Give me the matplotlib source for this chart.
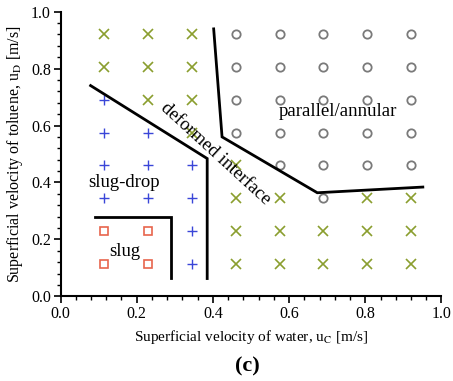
import matplotlib
matplotlib.use("Agg")
import matplotlib.pyplot as plt
from matplotlib.ticker import MultipleLocator, FormatStrFormatter

plt.rcParams['font.family'] = ['Liberation Serif', 'DejaVu Serif']
plt.rcParams['mathtext.fontset'] = 'stix'

# Flow-regime observations (water velocity u_C, toluene velocity u_D)
slug_x = [0.115, 0.115, 0.23, 0.23]
slug_y = [0.23, 0.115, 0.23, 0.115]

slugdrop_x = [0.115, 0.115, 0.115, 0.115, 0.23, 0.23, 0.23,
              0.345, 0.345, 0.345, 0.345]
slugdrop_y = [0.69, 0.575, 0.46, 0.345, 0.575, 0.46, 0.345,
              0.46, 0.345, 0.23, 0.115]

deformed_x = [0.115, 0.115, 0.23, 0.23, 0.23,
              0.345, 0.345, 0.345, 0.345,
              0.46, 0.46, 0.46, 0.46,
              0.575, 0.575, 0.575,
              0.69, 0.69,
              0.805, 0.805, 0.805,
              0.92, 0.92, 0.92]
deformed_y = [0.92, 0.805, 0.92, 0.805, 0.69,
              0.92, 0.805, 0.69, 0.575,
              0.46, 0.345, 0.23, 0.115,
              0.345, 0.23, 0.115,
              0.23, 0.115,
              0.345, 0.23, 0.115,
              0.345, 0.23, 0.115]

parallel_x = ([0.46] * 4 + [0.575] * 5 + [0.69] * 6 + [0.805] * 5 + [0.92] * 5)
parallel_y = ([0.92, 0.805, 0.69, 0.575] +
              [0.92, 0.805, 0.69, 0.575, 0.46] +
              [0.92, 0.805, 0.69, 0.575, 0.46, 0.345] +
              [0.92, 0.805, 0.69, 0.575, 0.46] +
              [0.92, 0.805, 0.69, 0.575, 0.46])

# Regime boundaries
b1_x = [0.079, 0.385, 0.385]
b1_y = [0.740, 0.484, 0.063]
b2_x = [0.402, 0.424, 0.674, 0.951]
b2_y = [0.939, 0.560, 0.364, 0.384]
b3_x = [0.090, 0.289, 0.289]
b3_y = [0.278, 0.278, 0.066]

fig = plt.figure(figsize=(4.53, 3.81), dpi=100)
ax = fig.add_axes([0.1336, 0.2218, 0.841, 0.748])

ax.plot(deformed_x, deformed_y, linestyle='none', marker='x', ms=6.5, mew=1.2,
        color='#8a9e2e')
ax.plot(slugdrop_x, slugdrop_y, linestyle='none', marker='+', ms=7, mew=1.0,
        color='#3a46d8')
ax.plot(slug_x, slug_y, linestyle='none', marker='s', ms=6, mew=1.2,
        mfc='none', mec='#e8654d')
ax.plot(parallel_x, parallel_y, linestyle='none', marker='o', ms=6, mew=1.3,
        mfc='none', mec='#7a7a7a')

for bx, by in [(b1_x, b1_y), (b2_x, b2_y), (b3_x, b3_y)]:
    ax.plot(bx, by, color='black', lw=2.0, solid_joinstyle='miter')

ax.text(0.168, 0.40, 'slug-drop', fontsize=13.5, ha='center', va='center')
ax.text(0.168, 0.158, 'slug', fontsize=13.5, ha='center', va='center')
ax.text(0.729, 0.650, 'parallel/annular', fontsize=13.5, ha='center', va='center')
ax.text(0.407, 0.502, 'deformed interface', fontsize=13.5, ha='center',
        va='center', rotation=-42.5, rotation_mode='anchor')

ax.set_xlim(0, 1.0)
ax.set_ylim(0, 1.0)
ax.xaxis.set_major_locator(MultipleLocator(0.2))
ax.yaxis.set_major_locator(MultipleLocator(0.2))
ax.xaxis.set_minor_locator(MultipleLocator(0.04))
ax.yaxis.set_minor_locator(MultipleLocator(0.04))
ax.xaxis.set_major_formatter(FormatStrFormatter('%.1f'))
ax.yaxis.set_major_formatter(FormatStrFormatter('%.1f'))
ax.tick_params(which='major', direction='out', length=5, width=1.2,
               labelsize=11.5, pad=2)
ax.tick_params(which='minor', direction='out', length=3, width=1.0)
for s in ['top', 'right']:
    ax.spines[s].set_visible(False)
for s in ['left', 'bottom']:
    ax.spines[s].set_linewidth(1.5)

ax.set_xlabel(r'Superficial velocity of water, u$_\mathrm{C}$ [m/s]',
              fontsize=11, labelpad=4)
ax.set_ylabel(r'Superficial velocity of toluene, u$_\mathrm{D}$ [m/s]',
              fontsize=11.5, labelpad=4)

fig.text(0.545, 0.037, '(c)', fontsize=16, fontweight='bold',
         ha='center', va='center')

fig.savefig('out.png', dpi=100)
